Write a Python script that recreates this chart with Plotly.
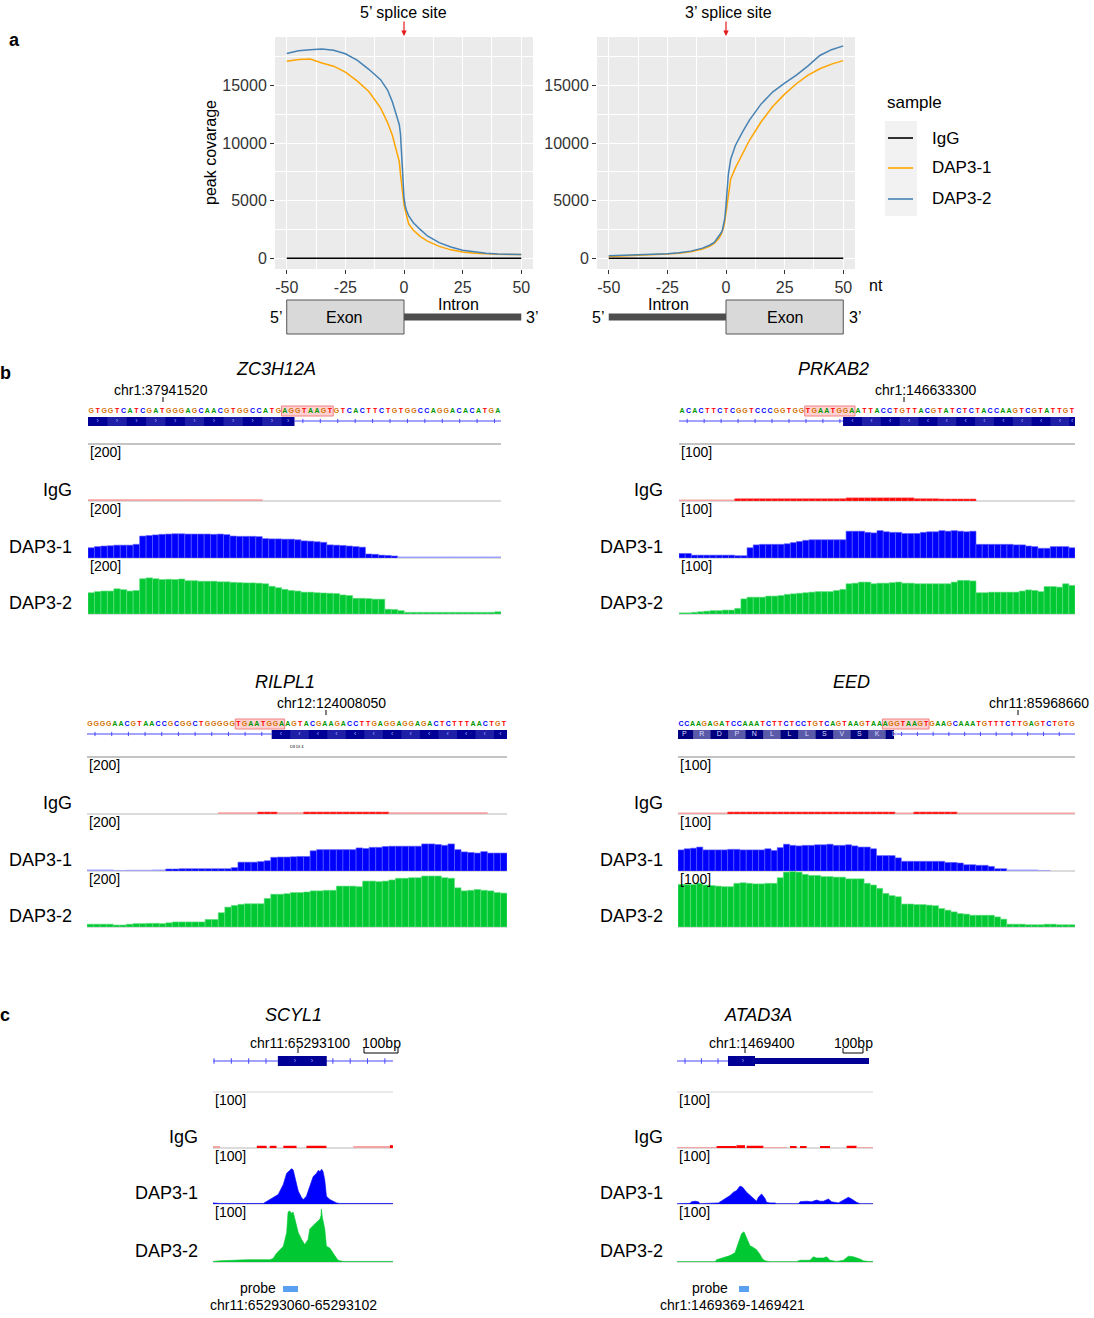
import plotly.graph_objects as go

W, H = 1094, 1318
FONT = "Liberation Sans, Arial, Helvetica, sans-serif"

# ---------------- panel a data ----------------
pos_nt = [-50, -45, -40, -35, -30, -25, -20, -15, -10, -7, -5, -3, -2, -1.5, -1, -0.5,
          0, 0.5, 1, 2, 4, 7, 10, 15, 20, 25, 30, 35, 40, 45, 50]
five_igg = [30, 30, 30, 30, 30, 30, 30, 30, 30, 30, 30, 30, 30, 30, 30, 30,
            30, 30, 30, 30, 30, 30, 30, 30, 30, 30, 30, 30, 30, 30, 30]
five_dap31 = [17100, 17250, 17300, 16950, 16670, 16150, 15400, 14480, 13060, 11780, 10700, 9300, 8400, 7300, 6300, 5300,
              4700, 4200, 3700, 3000, 2450, 1900, 1500, 1050, 750, 560, 450, 390, 360, 350, 345]
five_dap32 = [17770, 18000, 18100, 18150, 18050, 17750, 17190, 16400, 15500, 14600, 13600, 12400, 11600, 10800, 9000, 6800,
              5300, 4600, 4200, 3700, 3100, 2500, 1950, 1380, 1000, 720, 560, 460, 400, 370, 350]
three_igg = [30, 30, 30, 30, 30, 30, 30, 30, 30, 30, 30, 30, 30, 30, 30, 30,
             30, 30, 30, 30, 30, 30, 30, 30, 30, 30, 30, 30, 30, 30, 30]
three_dap31 = [180, 210, 250, 290, 330, 380, 460, 590, 820, 1050, 1300, 1750, 2100, 2350, 2700, 3200,
               3900, 4900, 5700, 6900, 7850, 9050, 10250, 11850, 13200, 14250, 15150, 15900, 16450, 16850, 17150]
three_dap32 = [230, 260, 290, 320, 360, 410, 500, 640, 900, 1150, 1400, 1900, 2250, 2500, 2900, 3500,
               4600, 6000, 7300, 8600, 9800, 10950, 12000, 13400, 14450, 15200, 15900, 16700, 17600, 18100, 18430]
samples = ["IgG", "DAP3-1", "DAP3-2"]
sample_colors = ["#000000", "#FFA500", "#4682B4"]
a_xticks = [-50, -25, 0, 25, 50]
a_xtick_text = ["-50", "-25", "0", "25", "50"]
a_yticks = [0, 5000, 10000, 15000]
a_ytick_text = ["0", "5000", "10000", "15000"]

# ---------------- panel b data ----------------
zc3h12a_seq = "GTGGTCATCGATGGGAGCAACGTGGCCATGAGGTAAGTGTCACTTCTGTGGCCAGGACACATGA"
zc3h12a_igg = [5, 5, 5, 5, 5, 5, 5, 5, 5, 5, 5, 5, 5, 5, 5, 5, 5, 5, 5, 5, 5, 5, 5, 5, 5, 5, 5,
               0, 0, 0, 0, 0, 0, 0, 0, 0, 0, 0, 0, 0, 0, 0, 0, 0, 0, 0, 0, 0, 0, 0, 0, 0, 0, 0, 0, 0, 0, 0, 0, 0, 0, 0, 0, 0]
zc3h12a_dap31 = [36, 40, 42, 43, 45, 45, 45, 48, 77, 79, 81, 83, 84, 85, 85, 84, 84, 84, 84, 83, 84, 82,
                 77, 76, 76, 76, 75, 68, 67, 67, 66, 66, 64, 60, 59, 57, 55, 46, 45, 44, 42, 40, 38,
                 14, 13, 10, 9, 7, 4, 4, 4, 4, 4, 4, 4, 4, 4, 4, 4, 4, 4, 4, 4, 4]
zc3h12a_dap32 = [76, 80, 82, 82, 90, 87, 82, 84, 126, 129, 126, 123, 124, 123, 125, 119, 119,
                 117, 117, 117, 115, 115, 113, 112, 111, 111, 110, 108, 99, 94, 88, 84, 82, 78, 78, 76, 75,
                 74, 73, 68, 66, 56, 56, 55, 53, 53, 17, 16, 12, 6, 6, 6, 6, 6, 6, 6, 6, 6, 6, 6, 6, 6, 6, 8]

prkab2_seq = "ACACTTCTCGGTCCCGGTGGTGAATGGAATTACCTGTTACGTATCTCTACCAAGTCGTATTGT"
prkab2_igg = [2, 2, 2, 2, 2, 2, 2, 2, 2, 4, 4, 4, 4, 4, 4, 4, 4, 4, 4, 4, 4, 4, 4, 4, 4, 4, 4,
              5.5, 5.5, 5.5, 5.5, 5.5, 5.5, 5.5, 5.5, 5.5, 5.5, 5.5, 4, 4, 4, 4, 3.5, 3.5, 3.5, 3.5, 3.5, 3.5,
              0, 0, 0, 0, 0, 0, 0, 0, 0, 0, 0, 0, 0, 0, 0, 0]
prkab2_dap31 = [8, 8, 5, 5, 5, 5, 5, 5, 5, 4, 4, 18, 23, 24, 24, 24, 24, 25, 27, 29, 31, 32, 32, 32, 32, 32, 32,
                47, 47, 47, 45, 44, 48, 46, 45, 45, 43, 43, 43, 45, 46, 46, 48, 47, 48, 47, 46, 47,
                24, 24, 24, 24, 24, 24, 23, 23, 21, 20, 17, 17, 20, 20, 20, 18]
prkab2_dap32 = [2, 2, 3, 4, 5, 6, 6, 7, 7, 10, 27, 30, 30, 30, 32, 32, 33, 35, 36, 37, 38, 39, 40, 40, 40, 42, 44,
                54, 55, 57, 57, 54, 55, 55, 56, 57, 55, 55, 54, 54, 54, 54, 54, 54, 57, 60, 60, 59,
                38, 38, 39, 39, 39, 39, 39, 41, 43, 42, 40, 49, 49, 48, 54, 51]

rilpl1_seq = "GGGGAACGTAACCGCGGCTGGGGGTGAATGGAAGTACGAAGACCTTGAGGAGGAGACTCTTTAACTGT"
rilpl1_igg = [0, 0, 0, 0, 0, 0, 0, 0, 0, 0, 0, 0, 0, 0, 0, 0, 0, 0, 0, 0, 5, 5, 5, 5, 5, 5, 7, 7, 7, 5, 5, 5, 5,
              7, 7, 7, 7, 7, 7, 7, 7, 7, 7, 7, 7, 7, 5, 5, 5, 5, 5, 5, 5, 5, 5, 5, 5, 5, 5, 5, 5, 0, 0, 0]
rilpl1_dap31 = [4, 4, 4, 4, 2, 2, 3, 3, 3, 3, 4, 4, 7, 7, 8, 8, 8, 8, 8, 8, 8, 8, 12, 31, 31, 31, 33, 36,
                48, 49, 49, 50, 51, 51, 71, 75, 75, 75, 75, 75, 75, 81, 79, 83, 83, 86, 87, 87, 87, 87, 87,
                95, 95, 93, 90, 95, 75, 67, 65, 63, 68, 63, 63, 63]
rilpl1_dap32 = [10, 10, 10, 10, 7, 7, 10, 12, 12, 13, 13, 12, 15, 18, 18, 18, 18, 18, 27, 27, 51, 71, 77,
                81, 83, 83, 83, 102, 117, 117, 119, 123, 123, 125, 129, 129, 131, 131, 146, 146, 146, 144,
                164, 164, 162, 164, 168, 174, 174, 176, 176, 182, 182, 182, 176, 174,
                140, 129, 131, 134, 131, 129, 123, 121]

eed_seq = "CCAAGAGATCCAAATCTTCTCCTGTCAGTAAGTAAAGGTAAGTGAAGCAAATGTTTCTTGAGTCTGTG"
eed_aa = ["P", "R", "D", "P", "N", "L", "L", "L", "S", "V", "S", "K", "D"]
eed_igg = [2, 2, 2, 2, 2, 2, 2, 2, 3.5, 3.5, 3.5, 3.5, 3.5, 3.5, 3.5, 3.5, 3.5, 3.5, 3.5, 3.5, 3.5, 3.5, 3.5,
           3.5, 3.5, 3.5, 3.5, 3.5, 3.5, 3.5, 3.5, 3.5, 3.5, 3.5, 3.5, 2, 2, 2, 3.5, 3.5, 3.5, 3.5, 3.5, 3.5, 3.5,
           2, 2, 2, 2, 2, 2, 2, 2, 2, 2, 2, 2, 2, 2, 2, 2, 2, 2, 2]
eed_dap31 = [37, 39, 40, 42, 37, 37, 37, 37, 38, 38, 37, 37, 37, 37, 39, 36, 41,
             47, 45, 44, 45, 45, 46, 46, 47, 45, 45, 46, 44, 42, 42, 39, 27, 27, 27, 23,
             17, 17, 17, 17, 17, 17, 17, 15, 15, 14, 11, 11, 10, 10, 8, 4, 4, 2, 2, 2, 2, 2, 1, 1, 0, 0, 0, 0]
eed_dap32 = [76, 76, 76, 78, 75, 74, 73, 72, 72, 78, 79, 78, 77, 77, 78, 78, 88, 98, 99, 98, 94,
             92, 92, 90, 90, 89, 89, 86, 86, 86, 78, 75, 69, 60, 56, 54, 41, 41, 40, 40, 39, 38,
             33, 30, 27, 24, 23, 21, 21, 21, 21, 18, 14, 5, 5, 5, 4, 4, 4, 5, 5, 4, 4, 4]

# ---------------- panel c data ----------------
scyl1_x1 = [0, 21, 148, 158, 177, 192, 207, 217, 226, 231, 236, 241, 251, 261, 266, 275, 285, 295, 305, 310,
            315, 320, 324, 329, 334, 344, 354, 364, 373, 450, 470, 500, 530]
scyl1_dap31 = [2, 1, 1, 5, 11, 17, 35, 55, 60, 63, 61, 49, 23, 11, 8, 14, 32, 49, 55, 60,
               58, 62, 58, 43, 14, 8, 5, 2, 1, 1, 2, 2, 1]
scyl1_x2 = [0, 21, 100, 158, 167, 177, 187, 197, 207, 217, 221, 226, 231, 236, 241, 246, 251, 261, 270, 280,
            285, 295, 305, 315, 318, 319, 322, 324, 329, 334, 344, 354, 368, 383, 530]
scyl1_dap32 = [1, 2, 4, 3, 4, 6, 15, 21, 27, 51, 86, 88, 84, 86, 74, 63, 51, 39, 30, 39,
               57, 63, 68, 74, 80, 91, 77, 71, 57, 27, 24, 15, 3, 1, 1]
scyl1_igg_start = [0, 129, 167, 207, 275, 413, 521]
scyl1_igg_end = [21, 158, 187, 246, 334, 521, 530]
scyl1_igg = [2, 4, 4, 4, 4, 2, 5]

atad3a_x1 = [0, 65, 73, 90, 107, 115, 207, 248, 265, 282, 298, 315, 328, 348, 365, 390, 398, 407, 423, 440,
             448, 465, 490, 498, 607, 615, 648, 673, 698, 715, 732, 757, 773, 807, 832, 857, 873, 898, 915, 980]
atad3a_dap31 = [0.6, 1.2, 4, 5, 4, 0.6, 2, 12, 15, 21, 24, 32, 30, 21, 15, 6, 5, 12, 18, 10,
                3, 2, 2, 0.6, 0.6, 4, 5, 4, 7, 5, 5, 9, 4, 2, 7, 12, 9, 3, 0.6, 0.6]
atad3a_x2 = [0, 190, 198, 232, 265, 290, 307, 323, 335, 348, 365, 382, 398, 415, 428, 440, 465, 598, 615, 665,
             682, 698, 732, 748, 765, 798, 832, 857, 882, 915, 932, 957, 980]
atad3a_dap32 = [0.6, 0.6, 4, 7, 11, 16, 34, 49, 52, 40, 28, 25, 21, 13, 5, 2, 0.6, 0.6, 3, 3,
                9, 7, 7, 9, 3, 1, 3, 10, 9, 5, 2, 1, 1]
atad3a_igg_start = [0, 198, 298, 348, 432, 565, 615, 715, 848, 898]
atad3a_igg_end = [198, 298, 340, 432, 548, 598, 648, 765, 898, 980]
atad3a_igg = [1.5, 3, 5, 4, 1.5, 2.5, 3, 3, 4, 1.5]

track_names = ["IgG", "DAP3-1", "DAP3-2"]
base_colors = {"A": "#009600", "C": "#0000FF", "G": "#D17105", "T": "#FF0000"}

# ---------------- helpers ----------------
fig = go.Figure()
LAY = {}
shapes, annots = [], []
counter = [0]


def add_axes(x0, x1, ytop, ybot, xr, yr):
    counter[0] += 1
    s = "" if counter[0] == 1 else str(counter[0])
    LAY["xaxis" + s] = dict(domain=[x0 / W, x1 / W], range=xr, anchor="y" + s, visible=False, fixedrange=True)
    LAY["yaxis" + s] = dict(domain=[1 - ybot / H, 1 - ytop / H], range=yr, anchor="x" + s, visible=False,
                            fixedrange=True)
    return "x" + s, "y" + s, s


def T(px, py, s, size=14, anchor="center", color="#000000", angle=0):
    annots.append(dict(xref="paper", yref="paper", x=px / W, y=1 - py / H, text=s, showarrow=False,
                       xanchor=anchor, yanchor="middle", textangle=angle,
                       font=dict(family=FONT, size=size, color=color)))


def PL(x0, y0, x1, y1, color="#000000", width=1, layer="above"):
    shapes.append(dict(type="line", xref="paper", yref="paper", x0=x0 / W, y0=1 - y0 / H, x1=x1 / W,
                       y1=1 - y1 / H, line=dict(color=color, width=width), layer=layer))


def PR(x0, y0, x1, y1, fill, lc=None, lw=0):
    shapes.append(dict(type="rect", xref="paper", yref="paper", x0=x0 / W, y0=1 - y1 / H, x1=x1 / W,
                       y1=1 - y0 / H, fillcolor=fill, line=dict(color=lc or fill, width=lw)))


# ---------------- panel a ----------------
def splice_panel(x0, x1, series, left_diagram_exon):
    xa, ya, s = add_axes(x0, x1, 37, 269, [-55, 55], [-910, 19200])
    tf = dict(family=FONT, size=16, color="#333333")
    LAY["xaxis" + s].update(visible=True, showgrid=True, gridcolor="white", gridwidth=1.4, zeroline=False,
                            showline=False, tickmode="array", tickvals=a_xticks, ticktext=a_xtick_text,
                            ticks="outside", ticklen=4, tickcolor="#333333", tickfont=tf,
                            minor=dict(tickmode="array", tickvals=[-37.5, -12.5, 12.5, 37.5], showgrid=True,
                                       gridcolor="white", gridwidth=0.6, ticks=""))
    LAY["yaxis" + s].update(visible=True, showgrid=True, gridcolor="white", gridwidth=1.4, zeroline=False,
                            showline=False, tickmode="array", tickvals=a_yticks, ticktext=a_ytick_text,
                            ticks="outside", ticklen=4, tickcolor="#333333", tickfont=tf,
                            minor=dict(tickmode="array", tickvals=[2500, 7500, 12500, 17500], showgrid=True,
                                       gridcolor="white", gridwidth=0.6, ticks=""))
    shapes.append(dict(type="rect", xref=xa, yref=ya, x0=-55, x1=55, y0=-910, y1=19200,
                       fillcolor="#EBEBEB", line=dict(width=0), layer="below"))
    for name, col, vals in zip(samples, sample_colors, series):
        fig.add_trace(go.Scatter(x=pos_nt, y=vals, mode="lines", line=dict(color=col, width=1.5),
                                 xaxis=xa, yaxis=ya, showlegend=False, hoverinfo="skip", name=name))
    # red arrow at the splice site
    annots.append(dict(xref=xa, yref="paper", x=0, y=1 - 36 / H, ax=0, ay=-16, text="", showarrow=True,
                       arrowhead=2, arrowsize=0.9, arrowwidth=1.2, arrowcolor="#E41A1C"))
    # exon / intron diagram
    ex = (-50, 0) if left_diagram_exon else (0, 50)
    intr = (0, 50) if left_diagram_exon else (-50, 0)
    shapes.append(dict(type="line", xref=xa, yref="paper", x0=intr[0], x1=intr[1], y0=1 - 317 / H,
                       y1=1 - 317 / H, line=dict(color="#4D4D4D", width=7)))
    shapes.append(dict(type="rect", xref=xa, yref="paper", x0=ex[0], x1=ex[1], y0=1 - 334 / H,
                       y1=1 - 300 / H, fillcolor="#D9D9D9", line=dict(color="#555555", width=1)))
    return xa


splice_panel(275, 533, [five_igg, five_dap31, five_dap32], True)
splice_panel(597, 855, [three_igg, three_dap31, three_dap32], False)

T(403, 13, "5’ splice site", 16)
T(728, 13, "3’ splice site", 16)
T(211, 153, "peak covarage", 16, angle=-90)
T(876, 285, "nt", 16)
T(344, 318, "Exon", 16)
T(458, 305, "Intron", 16)
T(276, 318, "5’", 16)
T(532, 318, "3’", 16)
T(598, 318, "5’", 16)
T(668, 305, "Intron", 16)
T(785, 318, "Exon", 16)
T(855, 318, "3’", 16)
# legend
T(885, 102, "sample", 17, anchor="left")
PR(885, 121, 917, 216, "#F2F2F2")
for i, (name, col) in enumerate(zip(samples, sample_colors)):
    yy = [138, 168, 199][i]
    PL(888, yy, 913, yy, col, 1.6)
    T(930, yy, name, 17, anchor="left")

T(14, 40, "<b>a</b>", 18)
T(5, 373, "<b>b</b>", 18)
T(5, 1015, "<b>c</b>", 18)


# ---------------- panel b ----------------
def bar_track(xa, ya, vals, full, color, faint, edge, fade):
    yv = [v if v > 0 else None for v in vals]
    cols = [faint if (fade and v / full < 0.03) else color for v in vals]
    edges = [faint if (fade and v / full < 0.03) else edge for v in vals]
    fig.add_trace(go.Bar(x=list(range(len(vals))), y=yv, width=1.0,
                         marker=dict(color=cols, line=dict(color=edges, width=0.6)),
                         xaxis=xa, yaxis=ya, showlegend=False, hoverinfo="skip"))


def igv_panel(x0, x1, dy, title, title_cx, coord, coord_cx, tick_x, label_r, scale, data, seq, box, gene):
    igg, d1, d2 = data
    styles = [("#FF0000", "#F6A3A3", "#FF6060", True),
              ("#0000FF", "#A0A0FF", "#6060FF", True),
              ("#00C832", "#00C832", "#60E080", False)]
    tops = [444, 501, 558]
    bots = [501, 558, 614]
    for name, vals, st, top, bot in zip(track_names, [igg, d1, d2], styles, tops, bots):
        xa, ya, _ = add_axes(x0, x1, top + dy, bot + dy, [-0.5, len(vals) - 0.5], [0, scale])
        PL(x0, bot + dy, x1, bot + dy, "#CFCFCF", 1.5, layer="below")
        bar_track(xa, ya, vals, scale, st[0], st[1], st[2], st[3])
        T(x0, top + dy + 8, "[%d]" % scale, 14, anchor="left")
        T(label_r, bot + dy - 11, name, 18, anchor="right")
    PL(x0, 444 + dy, x1, 444 + dy, "#8A8A8A", 1.2)
    # header: sequence + gene model
    n = len(seq)
    xh, yh, _ = add_axes(x0, x1, 402 + dy, 430 + dy, [-0.5, n - 0.5], [28, 0])
    shapes.append(dict(type="rect", xref=xh, yref=yh, x0=box[0] - 0.5, x1=box[1] + 0.5, y0=4, y1=14,
                       fillcolor="rgba(255,90,90,0.28)", line=dict(color="#F08080", width=1), layer="below"))
    fig.add_trace(go.Scatter(x=list(range(n)), y=[9] * n, mode="text", text=list(seq),
                             textfont=dict(family=FONT, size=7, color=[base_colors[b] for b in seq],
                                           weight="bold"),
                             xaxis=xh, yaxis=yh, showlegend=False, hoverinfo="skip", cliponaxis=False))
    ex0, ex1, in0, in1, glyph, aa = gene
    shapes.append(dict(type="line", xref=xh, yref=yh, x0=in0, x1=in1, y0=19, y1=19,
                       line=dict(color="#4848FF", width=1), layer="below"))
    tk = []
    t = in0 + 1.3
    while t < in1 - 0.3:
        tk.append(t)
        t += 2.7
    fig.add_trace(go.Scatter(x=tk, y=[19] * len(tk), mode="markers",
                             marker=dict(symbol="line-ns", size=3, line=dict(color="#4848FF", width=1)),
                             xaxis=xh, yaxis=yh, showlegend=False, hoverinfo="skip"))
    if aa:
        dark, light = "#000080", "#5A5AA8"
    else:
        dark, light = "#000096", "#1E1EA6"
    shapes.append(dict(type="rect", xref=xh, yref=yh, x0=ex0, x1=ex1, y0=15, y1=24, fillcolor=dark,
                       line=dict(width=0), layer="below"))
    start = ex0 - 0.42 if aa else ex0
    k = 0
    c = start
    centers = []
    while c < ex1 - 0.2:
        e = min(c + 3, ex1)
        if k % 2 == 1:
            shapes.append(dict(type="rect", xref=xh, yref=yh, x0=max(c, ex0), x1=e, y0=15, y1=24,
                               fillcolor=light, line=dict(width=0), layer="below"))
        centers.append(max(c, ex0) / 2 + e / 2 if not aa else c + 1.5)
        c += 3
        k += 1
    if aa:
        m = min(len(aa), len(centers))
        fig.add_trace(go.Scatter(x=centers[:m], y=[19.5] * m, mode="text", text=aa[:m],
                                 textfont=dict(family=FONT, size=7, color="#DADAFF"),
                                 xaxis=xh, yaxis=yh, showlegend=False, hoverinfo="skip", cliponaxis=False))
    else:
        fig.add_trace(go.Scatter(x=centers, y=[19.3] * len(centers), mode="text", text=[glyph] * len(centers),
                                 textfont=dict(family=FONT, size=7, color="#9FA8FF"),
                                 xaxis=xh, yaxis=yh, showlegend=False, hoverinfo="skip", cliponaxis=False))
    T(title_cx, 369 + dy, "<i>%s</i>" % title, 18)
    T(coord_cx, 390 + dy, coord, 14)
    PL(tick_x, 397 + dy, tick_x, 402 + dy, "#000000", 1)


igv_panel(88, 501, 0, "ZC3H12A", 276, "chr1:37941520", 161, 163, 74, 200,
          [zc3h12a_igg, zc3h12a_dap31, zc3h12a_dap32], zc3h12a_seq, (30, 37),
          (-0.5, 31.5, 31.5, 63.5, "›", None))
igv_panel(679, 1075, 0, "PRKAB2", 833, "chr1:146633300", 925, 904, 665, 100,
          [prkab2_igg, prkab2_dap31, prkab2_dap32], prkab2_seq, (20, 27),
          (25.6, 62.5, -0.5, 25.6, "‹", None))
igv_panel(87, 507, 313, "RILPL1", 285, "chr12:124008050", 331, 326, 74, 200,
          [rilpl1_igg, rilpl1_dap31, rilpl1_dap32], rilpl1_seq, (24, 31),
          (29.4, 67.5, -0.5, 29.4, "‹", None))
igv_panel(678, 1075, 313, "EED", 851, "chr11:85968660", 1039, 1018, 665, 100,
          [eed_igg, eed_dap31, eed_dap32], eed_seq, (35, 42),
          (-0.5, 36.5, 36.5, 67.5, "", eed_aa))
T(297, 746, "DII DI 4", 4)


# ---------------- panel c ----------------
def peak_panel(x0, x1, window, title, title_cx, coord, coord_cx, tick_x, bracket, label_r,
               igg, prof1, prof2, gene, probe):
    tops = [1092, 1148, 1204]
    bots = [1148, 1204, 1262]
    # IgG as segments
    xa, ya, _ = add_axes(x0, x1, tops[0], bots[0], window, [0, 100])
    PL(x0, bots[0], x1, bots[0], "#CFCFCF", 1.5, layer="below")
    st, en, vv = igg
    fig.add_trace(go.Bar(x=[(a + b) / 2 for a, b in zip(st, en)], y=vv, width=[b - a for a, b in zip(st, en)],
                         marker=dict(color=["#F6A3A3" if v / 100 < 0.025 else "#FF0000" for v in vv],
                                     line=dict(width=0)),
                         xaxis=xa, yaxis=ya, showlegend=False, hoverinfo="skip"))
    for (px_, py_), col, top, bot in zip([prof1, prof2], ["#0000FF", "#00C832"], tops[1:], bots[1:]):
        xa, ya, _ = add_axes(x0, x1, top, bot, window, [0, 100])
        PL(x0, bot, x1, bot, "#CFCFCF", 1.5, layer="below")
        fig.add_trace(go.Scatter(x=px_, y=py_, mode="lines", fill="tozeroy", fillcolor=col,
                                 line=dict(color=col, width=0.6), xaxis=xa, yaxis=ya,
                                 showlegend=False, hoverinfo="skip"))
    for name, top, bot in zip(track_names, tops, bots):
        T(x0, top + 8, "[100]", 14, anchor="left")
        T(label_r, bot - 11, name, 18, anchor="right")
    PL(x0, 1092, x1, 1092, "#D6D6D6", 1.2)
    # gene model
    xh, yh, _ = add_axes(x0, x1, 1053, 1069, window, [16, 0])
    shapes.append(dict(type="line", xref=xh, yref=yh, x0=gene["line"][0], x1=gene["line"][1], y0=8, y1=8,
                       line=dict(color="#4848FF", width=1), layer="below"))
    fig.add_trace(go.Scatter(x=gene["ticks"], y=[8] * len(gene["ticks"]), mode="markers",
                             marker=dict(symbol="line-ns", size=4, line=dict(color="#4848FF", width=1)),
                             xaxis=xh, yaxis=yh, showlegend=False, hoverinfo="skip"))
    if gene.get("band"):
        shapes.append(dict(type="rect", xref=xh, yref=yh, x0=gene["band"][0], x1=gene["band"][1], y0=5, y1=11,
                           fillcolor="#000096", line=dict(width=0), layer="below"))
    shapes.append(dict(type="rect", xref=xh, yref=yh, x0=gene["box"][0], x1=gene["box"][1], y0=3, y1=13,
                       fillcolor="#000096", line=dict(width=0), layer="below"))
    fig.add_trace(go.Scatter(x=gene["glyphs"], y=[8.3] * len(gene["glyphs"]), mode="text",
                             text=["›"] * len(gene["glyphs"]),
                             textfont=dict(family=FONT, size=7, color="#9FA8FF"),
                             xaxis=xh, yaxis=yh, showlegend=False, hoverinfo="skip", cliponaxis=False))
    T(title_cx, 1015, "<i>%s</i>" % title, 18)
    T(coord_cx, 1043, coord, 14)
    PL(tick_x, 1048, tick_x, 1053, "#000000", 1)
    b0, b1 = bracket
    T((b0 + b1) / 2, 1043, "100bp", 14)
    PL(b0, 1053, b1, 1053, "#000000", 1)
    PL(b0, 1053, b0, 1048, "#000000", 1)
    PL(b1, 1053, b1, 1048, "#000000", 1)
    p_txt_x, p_r0, p_r1, p_coord_x, p_coord = probe
    T(p_txt_x, 1288, "probe", 14)
    PR(p_r0, 1286, p_r1, 1292, "#5AA0F0")
    T(p_coord_x, 1305, p_coord, 14)


peak_panel(213, 393, [0, 530], "SCYL1", 293, "chr11:65293100", 300, 298, (364, 398), 200,
           (scyl1_igg_start, scyl1_igg_end, scyl1_igg), (scyl1_x1, scyl1_dap31), (scyl1_x2, scyl1_dap32),
           dict(line=(0, 530), box=(191, 335), band=None, ticks=[3, 54, 105, 156, 353, 404, 455, 506],
                glyphs=[241, 291]),
           (258, 283, 298, 293, "chr11:65293060-65293102"))
peak_panel(677, 873, [0, 980], "ATAD3A", 758, "chr1:1469400", 752, 745, (843, 863), 665,
           (atad3a_igg_start, atad3a_igg_end, atad3a_igg), (atad3a_x1, atad3a_dap31), (atad3a_x2, atad3a_dap32),
           dict(line=(0, 255), box=(255, 390), band=(390, 960), ticks=[40, 122, 205], glyphs=[330]),
           (710, 739, 749, 732, "chr1:1469369-1469421"))

fig.update_layout(width=W, height=H, autosize=False, margin=dict(l=0, r=0, t=0, b=0),
                  paper_bgcolor="white", plot_bgcolor="rgba(0,0,0,0)", showlegend=False,
                  shapes=shapes, annotations=annots, font=dict(family=FONT), barmode="overlay",
                  **LAY)
fig.write_html("out.html", include_plotlyjs=True, config={"displayModeBar": False},
               post_script="document.body.style.margin='0';")
